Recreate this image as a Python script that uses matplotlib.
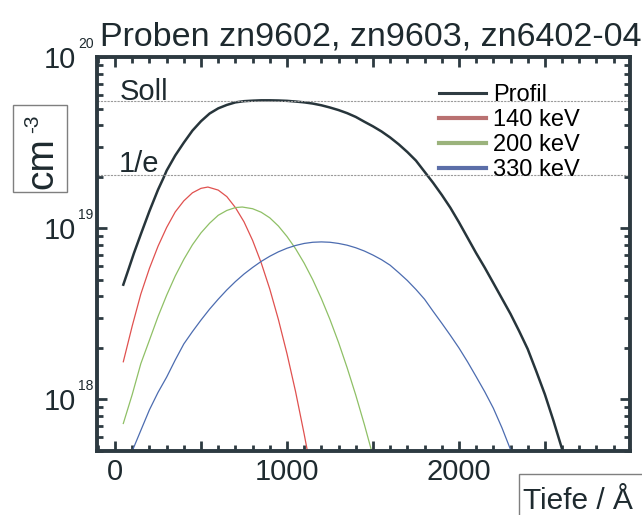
import matplotlib
matplotlib.use("Agg")
import matplotlib.pyplot as plt
from matplotlib.lines import Line2D
from matplotlib.patches import Rectangle
from matplotlib.ticker import MultipleLocator, FuncFormatter, LogLocator, NullFormatter

plt.rcParams['font.family'] = ['Liberation Sans', 'DejaVu Sans']

# depth in Angstrom, concentration in cm^-3
profil_x = [48, 80, 110, 150, 200, 250, 281, 300, 350, 400, 450, 500, 550, 600, 650, 700,
            750, 800, 850, 900, 950, 1000, 1050, 1100, 1150, 1200, 1250, 1300, 1350, 1400,
            1450, 1500, 1550, 1600, 1650, 1700, 1750, 1800, 1850, 1900, 1950, 2000, 2050,
            2100, 2150, 2200, 2250, 2300, 2350, 2400, 2450, 2500, 2550, 2600, 2615]
profil_y = [4.68e18, 5.82e18, 7.16e18, 9.23e18, 1.259e19, 1.679e19, 1.96e19, 2.17e19,
            2.66e19, 3.162e19, 3.715e19, 4.217e19, 4.677e19, 5.012e19, 5.248e19, 5.433e19,
            5.521e19, 5.559e19, 5.585e19, 5.585e19, 5.572e19, 5.546e19, 5.495e19, 5.433e19,
            5.346e19, 5.224e19, 5.070e19, 4.898e19, 4.699e19, 4.467e19, 4.188e19, 3.936e19,
            3.673e19, 3.388e19, 3.090e19, 2.786e19, 2.483e19, 2.138e19, 1.841e19, 1.567e19,
            1.318e19, 1.084e19, 8.81e18, 7.16e18, 5.89e18, 4.79e18, 3.89e18, 3.16e18,
            2.51e18, 1.97e18, 1.46e18, 1.07e18, 7.50e17, 5.13e17, 4.57e17]

kev140_x = [48, 100, 150, 200, 250, 300, 350, 400, 450, 500, 540, 600, 650, 700, 750, 800,
            850, 900, 950, 1000, 1050, 1100, 1130]
kev140_y = [1.66e18, 2.69e18, 4.13e18, 5.83e18, 7.85e18, 1.01e19, 1.245e19, 1.445e19,
            1.61e19, 1.71e19, 1.74e19, 1.67e19, 1.53e19, 1.32e19, 1.09e19, 8.49e18, 6.28e18,
            4.41e18, 2.93e18, 1.85e18, 1.11e18, 6.27e17, 4.36e17]

kev200_x = [48, 100, 150, 200, 250, 300, 350, 400, 450, 500, 550, 600, 650, 700, 740, 800,
            850, 900, 950, 1000, 1050, 1100, 1150, 1200, 1250, 1300, 1350, 1400, 1450, 1500]
kev200_y = [7.24e17, 1.07e18, 1.62e18, 2.22e18, 3.05e18, 4.06e18, 5.26e18, 6.58e18, 8.0e18,
            9.4e18, 1.07e19, 1.19e19, 1.27e19, 1.32e19, 1.33e19, 1.30e19, 1.24e19, 1.15e19,
            1.03e19, 8.95e18, 7.59e18, 6.25e18, 5.0e18, 3.88e18, 2.93e18, 2.15e18, 1.53e18,
            1.06e18, 7.14e17, 4.68e17]

kev330_x = [100, 150, 200, 250, 300, 350, 400, 450, 500, 550, 600, 650, 700, 750, 800, 850,
            900, 950, 1000, 1050, 1100, 1150, 1200, 1250, 1300, 1350, 1400, 1450, 1500, 1550,
            1600, 1650, 1700, 1750, 1800, 1850, 1900, 1950, 2000, 2050, 2100, 2150, 2200,
            2250, 2300, 2320]
kev330_y = [5.0e17, 6.6e17, 8.7e17, 1.10e18, 1.35e18, 1.70e18, 2.11e18, 2.49e18, 2.91e18,
            3.37e18, 3.85e18, 4.36e18, 4.88e18, 5.40e18, 5.90e18, 6.40e18, 6.86e18, 7.28e18,
            7.64e18, 7.93e18, 8.15e18, 8.28e18, 8.32e18, 8.28e18, 8.15e18, 7.96e18, 7.69e18,
            7.36e18, 6.97e18, 6.55e18, 6.08e18, 5.50e18, 4.95e18, 4.39e18, 3.85e18, 3.27e18,
            2.79e18, 2.37e18, 2.0e18, 1.66e18, 1.36e18, 1.11e18, 8.9e17, 6.84e17, 5.1e17,
            4.6e17]

soll = 5.56e19
one_over_e = 2.05e19

labels = ["Profil", "140 keV", "200 keV", "330 keV"]
xtick_vals = [0, 1000, 2000]
ytick_exps = [18, 19, 20]

DARK = "#27353b"
AXC = "#2d3a41"
TXT = "#1e2a2f"

fig = plt.figure(figsize=(6.42, 5.15), dpi=100)
ax = fig.add_axes([97 / 642, 64 / 515, 533 / 642, 394 / 515])

ax.plot(profil_x, profil_y, color=DARK, lw=1.8)
ax.plot(kev140_x, kev140_y, color="#e0514f", lw=0.9)
ax.plot(kev200_x, kev200_y, color="#8fc066", lw=0.9)
ax.plot(kev330_x, kev330_y, color="#4c6cb0", lw=0.9)

ax.axhline(soll, color="#9a9a9a", lw=0.8, ls=(0, (2, 1)))
ax.axhline(one_over_e, color="#9a9a9a", lw=0.8, ls=(0, (2, 1)))
ax.text(0.043, 0.891, "Soll", transform=ax.transAxes, fontsize=21, color=TXT,
        va="baseline", ha="left")
ax.text(0.040, 0.708, "1/e", transform=ax.transAxes, fontsize=21, color=TXT,
        va="baseline", ha="left")

ax.set_yscale("log")
ax.set_xlim(-105, 2995)
ax.set_ylim(5e17, 1e20)

ax.xaxis.set_major_locator(MultipleLocator(500))
ax.xaxis.set_minor_locator(MultipleLocator(100))
ax.xaxis.set_major_formatter(FuncFormatter(
    lambda v, p: str(int(round(v))) if int(round(v)) in xtick_vals else ""))

ax.set_yticks([10.0 ** k for k in ytick_exps])
ax.set_yticklabels(["10"] * len(ytick_exps))
ax.yaxis.set_minor_locator(LogLocator(base=10, subs=range(2, 10)))
ax.yaxis.set_minor_formatter(NullFormatter())

ax.tick_params(which="both", direction="in", top=True, right=True, color=AXC,
               labelcolor=TXT, labelsize=21)
ax.tick_params(which="major", length=7, width=2)
ax.tick_params(which="minor", length=4.5, width=2)
ax.tick_params(axis="y", which="major", pad=15)
ax.tick_params(axis="x", which="major", pad=5)
for s in ax.spines.values():
    s.set_linewidth(2.8)
    s.set_color(AXC)

for k in ytick_exps:
    ax.annotate(str(k), xy=(0, 10.0 ** k), xycoords=("axes fraction", "data"),
                xytext=(-19, 13), textcoords="offset pixels", fontsize=10,
                ha="left", va="center", color=TXT, annotation_clip=False)

handles = [
    Line2D([], [], color="#2f3c42", lw=2.2),
    Line2D([], [], color="#b97171", lw=3),
    Line2D([], [], color="#9bb37c", lw=3),
    Line2D([], [], color="#5b6ea8", lw=3),
]
ax.legend(handles, labels, loc="center left", bbox_to_anchor=(0.642, 0.808),
          frameon=False, fontsize=17, borderpad=0, borderaxespad=0,
          handlelength=2.0, handletextpad=0.3, labelspacing=0.12)

fig.text(100 / 642, (515 - 45) / 515, "Proben zn9602, zn9603, zn6402-04",
         fontsize=24.5, color=TXT, va="baseline", ha="left")

# y label in a box
fig.add_artist(Rectangle((13 / 642, (515 - 192) / 515), 54 / 642, 87 / 515,
                         transform=fig.transFigure, fill=False, ec="#7f7f7f", lw=1))
fig.text(42 / 642, (515 - 163) / 515, "cm", rotation=90, fontsize=28,
         color=TXT, ha="center", va="center")
fig.text(33 / 642, (515 - 124) / 515, "-3", rotation=90, fontsize=15,
         color=TXT, ha="center", va="center")

# x label in a box, running off the corner
fig.add_artist(Rectangle((519 / 642, -0.05), 0.3, (515 - 474) / 515 + 0.05,
                         transform=fig.transFigure, fill=False, ec="#7f7f7f", lw=1))
fig.text(523 / 642, 6 / 515, "Tiefe / Å", fontsize=21.5, color=TXT,
         va="baseline", ha="left")

fig.savefig("out.png", dpi=100, facecolor="white")
